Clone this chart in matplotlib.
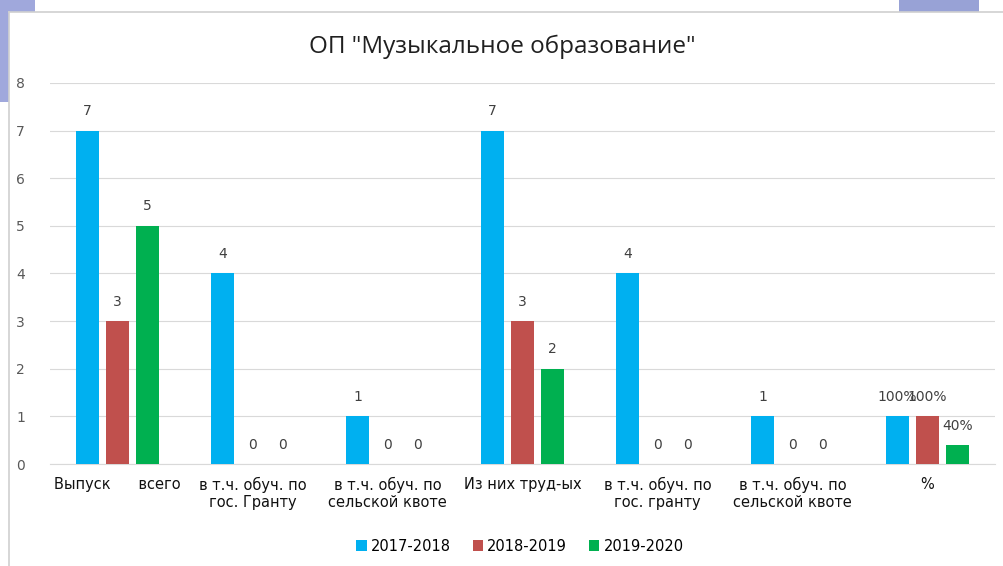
import numpy as np
import matplotlib.pyplot as plt
from matplotlib.patches import Rectangle

categories = ["Выпуск      всего", "в т.ч. обуч. по\nгос. Гранту", "в т.ч. обуч. по\nсельской квоте",
              "Из них труд-ых", "в т.ч. обуч. по\nгос. гранту", "в т.ч. обуч. по\nсельской квоте", "%"]
series_names = ["2017-2018", "2018-2019", "2019-2020"]
v2017 = [7, 4, 1, 7, 4, 1, 1.0]
v2018 = [3, 0, 0, 3, 0, 0, 1.0]
v2019 = [5, 0, 0, 2, 0, 0, 0.4]
lab2017 = ["7", "4", "1", "7", "4", "1", "100%"]
lab2018 = ["3", "0", "0", "3", "0", "0", "100%"]
lab2019 = ["5", "0", "0", "2", "0", "0", "40%"]
colors = ["#00b0f0", "#c0504d", "#00b050"]

fig = plt.figure(figsize=(10.04, 5.66), dpi=100)
fig.patch.set_facecolor("white")

# slide decoration behind the chart frame
fig.patches.append(Rectangle((0, 0.82), 0.009, 0.18, transform=fig.transFigure,
                             facecolor="#a0a8dc", edgecolor="none", zorder=0))
fig.patches.append(Rectangle((0, 0.978), 0.035, 0.022, transform=fig.transFigure,
                             facecolor="#a0a8dc", edgecolor="none", zorder=0))
fig.patches.append(Rectangle((0.895, 0.978), 0.08, 0.022, transform=fig.transFigure,
                             facecolor="#98a2d6", edgecolor="none", zorder=0))
fig.lines.append(plt.Line2D([0.009, 0.009], [0, 0.978], transform=fig.transFigure,
                            color="#d0d0d0", lw=1.2))
fig.lines.append(plt.Line2D([0.009, 1], [0.978, 0.978], transform=fig.transFigure,
                            color="#d0d0d0", lw=1.2))

ax = fig.add_axes([0.0498, 0.1802, 0.9412, 0.6732])
x = np.arange(len(categories))
offs = [-0.222, 0, 0.222]
w = 0.17
for vals, labs, off, c, name in zip([v2017, v2018, v2019], [lab2017, lab2018, lab2019],
                                    offs, colors, series_names):
    bars = ax.bar(x + off, vals, w, color=c, label=name, zorder=3)
    for b, v, lab in zip(bars, vals, labs):
        ax.text(b.get_x() + b.get_width() / 2, v + 0.26, lab, ha="center", va="bottom",
                fontsize=10, color="#404040", zorder=4)

ax.set_xlim(-0.5, len(categories) - 0.5)
ax.set_ylim(0, 8)
ax.set_yticks(range(0, 9))
ax.yaxis.grid(True, color="#d9d9d9", lw=0.8, zorder=0)
ax.set_axisbelow(True)
for s in ["top", "right", "left"]:
    ax.spines[s].set_visible(False)
ax.spines["bottom"].set_color("#d9d9d9")
ax.tick_params(axis="y", length=0, pad=18, labelsize=10, labelcolor="#595959")
ax.tick_params(axis="x", length=0, pad=9)
ax.set_xticks(x)
ax.set_xticklabels(categories, fontsize=10.5, color="#111111", linespacing=1.2)

fig.text(0.5, 0.917, 'ОП "Музыкальное образование"', ha="center", va="center",
         fontsize=17.5, color="#202020", family="Open Sans")

fig.legend(loc="center", bbox_to_anchor=(0.518, 0.035), ncol=3, frameon=False,
           fontsize=10.5, handlelength=0.7, handleheight=0.7, handletextpad=0.3,
           columnspacing=1.5)

fig.savefig("out.png", dpi=100, facecolor=fig.get_facecolor())
